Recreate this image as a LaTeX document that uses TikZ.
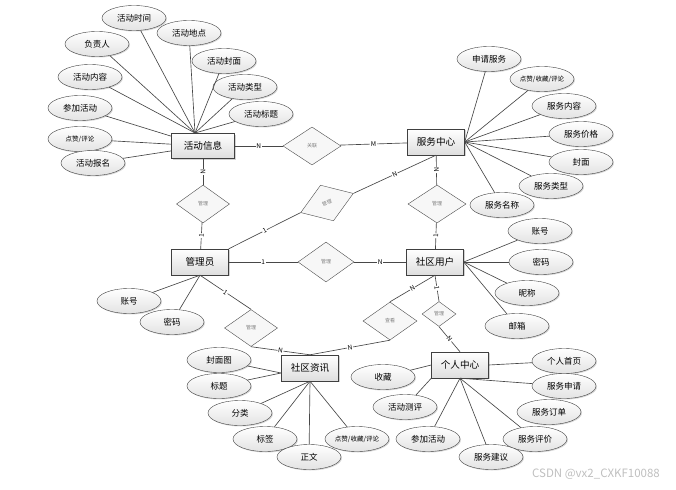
\documentclass[tikz,border=0pt]{standalone}
\usepackage{fontspec}
\setmainfont{Noto Sans CJK SC}
\usetikzlibrary{
    positioning,
    shadows,
    shapes.geometric
}
\tikzset{
    every picture/.style = {
        x = 1pt,
        y = -1pt
    },
    entity/.style = {
        draw = black!75,
        rectangle,
        minimum width = 57pt,
        minimum height = 26pt,
        inner sep = 1pt,
        top color = white,
        bottom color = black!13,
        drop shadow = {shadow xshift = 1.2pt, shadow yshift = -1.2pt, opacity = 0.35},
        font = \fontsize{9.6}{11}\selectfont
    },
    attr/.style = {
        draw = black!75,
        ellipse,
        minimum width = 64pt,
        minimum height = 25pt,
        inner sep = 0pt,
        top color = white,
        bottom color = black!11,
        drop shadow = {shadow xshift = 1pt, shadow yshift = -1pt, opacity = 0.3},
        font = \fontsize{8.5}{10}\selectfont
    },
    smallattr/.style = {
        attr,
        font = \fontsize{6.5}{8}\selectfont
    },
    rel/.style = {
        draw = black!70,
        diamond,
        aspect = 1.5,
        minimum width = 56pt,
        minimum height = 38pt,
        inner sep = 0pt,
        fill = black!3,
        text = black!50,
        font = \fontsize{5}{6}\selectfont
    },
    card/.style = {
        fill = white,
        inner sep = 0.6pt,
        font = \fontsize{6.5}{7}\selectfont
    },
    link/.style = {
        draw = black!72,
        line width = 0.65pt
    }
}

\begin{document}
\begin{tikzpicture}
    \useasboundingbox (0,0) rectangle (676,489);

    % entities
    \node[entity, minimum width = 63pt, minimum height = 25pt] (hd) at (203,146) {活动信息};
    \node[entity] (fw) at (436,142) {服务中心};
    \node[entity] (gly) at (200,262) {管理员};
    \node[entity] (yh) at (435,262) {社区用户};
    \node[entity] (zx) at (310,368) {社区资讯};
    \node[entity] (gr) at (460,365) {个人中心};

    % relations
    \node[rel, minimum width = 58pt] (gl) at (312,146) {关联};
    \node[rel, rotate = 20] (gl1) at (327,203) {管理};
    \node[rel, minimum width = 53pt] (gl2) at (203,204) {管理};
    \node[rel, minimum width = 58pt] (gl3) at (437,204) {管理};
    \node[rel, minimum height = 40pt] (gl4) at (326,262) {管理};
    \node[rel, minimum width = 53pt, minimum height = 37pt] (gl5) at (251,328) {管理};
    \node[rel, minimum width = 54pt] (ck) at (390,321) {查看};
    \node[rel, minimum width = 34pt, minimum height = 25pt] (gl6) at (439,314) {管理};

    \path[link] (hd) -- node[card] {N} (gl);
    \path[link] (gl) -- node[card] {M} (fw);
    \path[link] (gly.north east) -- node[card, sloped] {1} (gl1.west);
    \path[link] (gl1.east) -- node[card, sloped] {N} (fw.south);
    \path[link] (hd) -- node[card, sloped] {N} (gl2);
    \path[link] (gl2) -- node[card, sloped] {1} (gly);
    \path[link] (fw) -- node[card, sloped] {N} (gl3);
    \path[link] (gl3) -- node[card, sloped] {1} (yh);
    \path[link] (gly) -- node[card] {1} (gl4);
    \path[link] (gl4) -- node[card] {N} (yh);
    \path[link] (gly.south) -- node[card, sloped] {1} (gl5.north);
    \path[link] (gl5.south) -- node[card, sloped] {N} (zx.north);
    \path[link] (yh.south) -- node[card, sloped] {N} (ck.north);
    \path[link] (ck.south) -- node[card, sloped] {N} (zx.north);
    \path[link] (yh.south) -- node[card, sloped] {1} (gl6.north);
    \path[link] (gl6.south) -- node[card, sloped] {N} (gr.north);

    % 活动信息
    \coordinate (hdtop) at (195,133);
    \node[attr] (sj) at (134,18) {活动时间};
    \node[attr] (dd) at (189,33) {活动地点};
    \node[attr] (fzr) at (97,44) {负责人};
    \node[attr] (fm) at (224,61) {活动封面};
    \node[attr] (nr) at (90,77) {活动内容};
    \node[attr] (lx) at (245,87) {活动类型};
    \node[attr] (cj) at (80,108) {参加活动};
    \node[attr] (bt) at (261,114) {活动标题};
    \node[smallattr] (dz) at (80,139) {点赞/评论};
    \node[attr] (bm) at (93,163) {活动报名};
    \foreach \a in {sj, dd, fzr, fm, nr, lx, bt}
        \path[link] (\a) -- (hdtop);
    \foreach \a in {cj, dz, bm}
        \path[link] (\a) -- (hd);

    % 服务中心
    \node[attr] (sqfw) at (489,59) {申请服务};
    \node[smallattr] (fwdz) at (542,79) {点赞/收藏/评论};
    \node[attr] (fwnr) at (564,106) {服务内容};
    \node[attr] (fwjg) at (581,134) {服务价格};
    \node[attr] (fwfm) at (581,162) {封面};
    \node[attr] (fwlx) at (551,186) {服务类型};
    \node[attr] (fwmc) at (502,205) {服务名称};
    \foreach \a in {sqfw, fwdz, fwnr, fwjg, fwfm, fwlx, fwmc}
        \path[link] (\a) -- (fw.east);

    % 社区用户
    \node[attr] (yhzh) at (540,231) {账号};
    \node[attr] (yhmm) at (541,262) {密码};
    \node[attr] (yhnc) at (527,293) {昵称};
    \node[attr] (yhyx) at (517,326) {邮箱};
    \foreach \a in {yhzh, yhmm, yhnc, yhyx}
        \path[link] (\a) -- (yh.east);

    % 管理员
    \node[attr] (glzh) at (129,301) {账号};
    \node[attr] (glmm) at (172,322) {密码};
    \foreach \a in {glzh, glmm}
        \path[link] (\a) -- (gly.south);

    % 社区资讯
    \coordinate (zxleft) at (281,373);
    \node[attr] (zxfm) at (219,360) {封面图};
    \node[attr] (zxbt) at (219,386) {标题};
    \node[attr] (zxfl) at (240,413) {分类};
    \node[attr] (zxbq) at (265,439) {标签};
    \node[attr] (zxzw) at (309,457) {正文};
    \node[smallattr] (zxdz) at (357,439) {点赞/收藏/评论};
    \foreach \a in {zxfm, zxbt}
        \path[link] (\a) -- (zxleft);
    \foreach \a in {zxfl, zxbq, zxzw, zxdz}
        \path[link] (\a) -- (zx.south);

    % 个人中心
    \node[attr] (grsy) at (564,361) {个人首页};
    \node[attr] (grsq) at (564,386) {服务申请};
    \node[attr] (grdd) at (549,412) {服务订单};
    \node[attr] (grpj) at (535,439) {服务评价};
    \node[attr] (grjy) at (491,457) {服务建议};
    \node[attr] (grcj) at (428,439) {参加活动};
    \node[attr] (grcp) at (405,407) {活动测评};
    \node[attr] (grsc) at (383,377) {收藏};
    \path[link] (grsy) -- (gr.east);
    \foreach \a in {grsq, grpj, grjy, grcj}
        \path[link] (\a) -- (gr.south);
    \path[link] (grcp) -- (gr.south west);
    \path[link] (grsc) -- (gr.west);

    \node[text = black!25, font = \fontsize{11.5}{12}\selectfont] (wm) at (596,474) {CSDN @vx2\_CXKF10088};
\end{tikzpicture}
\end{document}
